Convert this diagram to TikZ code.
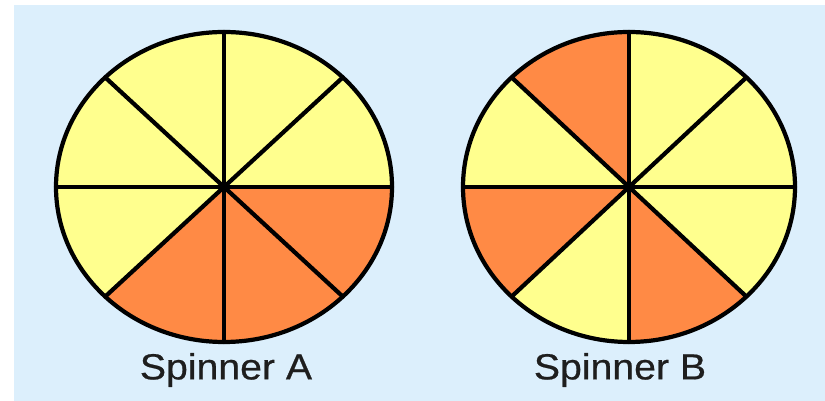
\documentclass[tikz,border=0pt]{standalone}
\usepackage{fontspec}
\newfontfamily\captionfont[FakeStretch=1.08,FakeBold=0.6]{Liberation Sans}
\usetikzlibrary{positioning}
\definecolor{SkyBack}{HTML}{DCEFFC}
\definecolor{PaleYellow}{HTML}{FFFF8E}
\definecolor{SpinOrange}{HTML}{FF8A45}
\definecolor{InkGray}{HTML}{1E1E1E}

\begin{document}
\begin{tikzpicture}[
  x=0.03cm, y=0.03cm,
  spoke/.style={draw=black, line width=3.6pt, line cap=round},
  rim/.style={draw=black, line width=3.6pt},
  caption/.style={font=\captionfont\fontsize{31}{36}\selectfont, text=InkGray, inner sep=0pt}
]
\useasboundingbox (0,0) rectangle (825,401);
\fill[SkyBack] (14,0) rectangle (825,396);

\coordinate (hubA) at (224,214);
\coordinate (hubB) at (629,214);

% Spinner A
\foreach \a/\col in {0/PaleYellow, 45/PaleYellow, 90/PaleYellow, 135/PaleYellow,
                     180/PaleYellow, 225/SpinOrange, 270/SpinOrange, 315/SpinOrange}
  \fill[\col] (hubA) -- ([shift={(\a:168 and 155)}]hubA)
    arc[start angle=\a, delta angle=45, x radius=168, y radius=155] -- cycle;
\foreach \a in {0,45,90,135}
  \draw[spoke] ([shift={(\a:168 and 155)}]hubA) -- ([shift={(\a+180:168 and 155)}]hubA);
\draw[rim] (hubA) ellipse[x radius=168, y radius=155];

% Spinner B
\foreach \a/\col in {0/PaleYellow, 45/PaleYellow, 90/SpinOrange, 135/PaleYellow,
                     180/SpinOrange, 225/PaleYellow, 270/SpinOrange, 315/PaleYellow}
  \fill[\col] (hubB) -- ([shift={(\a:166 and 155)}]hubB)
    arc[start angle=\a, delta angle=45, x radius=166, y radius=155] -- cycle;
\foreach \a in {0,45,90,135}
  \draw[spoke] ([shift={(\a:166 and 155)}]hubB) -- ([shift={(\a+180:166 and 155)}]hubB);
\draw[rim] (hubB) ellipse[x radius=166, y radius=155];

\node[caption] (labelA) at (226,31) {Spinner A};
\node[caption] (labelB) at (620,31) {Spinner B};

\end{tikzpicture}
\end{document}
